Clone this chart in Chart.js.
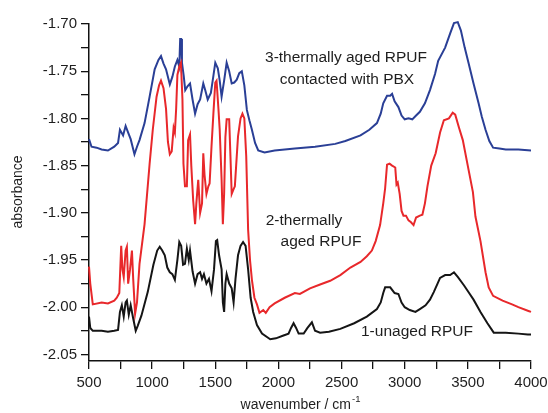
<!DOCTYPE html>
<html><head><meta charset="utf-8">
<script src="https://cdn.jsdelivr.net/npm/chart.js@4.4.1/dist/chart.umd.min.js"></script>
<style>html,body{margin:0;padding:0;background:#fff;}canvas{display:block;}</style>
</head><body>
<canvas id="c" width="548" height="413"></canvas>
<script>
// ---- data ----
const blackX = [500,510,530,600,650,700,730,745,760,775,790,800,815,830,850,870,885,915,965,1010,1040,1060,1080,1100,1120,1140,1160,1180,1200,1215,1230,1245,1260,1275,1290,1300,1320,1340,1360,1380,1395,1410,1430,1450,1470,1490,1505,1515,1530,1550,1560,1570,1580,1590,1610,1630,1645,1660,1680,1700,1720,1740,1760,1780,1800,1830,1870,1935,1980,2040,2080,2100,2120,2140,2160,2200,2230,2265,2290,2330,2400,2490,2600,2700,2780,2810,2830,2845,2885,2920,2950,2975,3000,3040,3085,3120,3165,3200,3230,3260,3280,3320,3360,3390,3420,3470,3510,3545,3600,3655,3705,3800,3900,3975,4000];
const blackY = [-2.010,-2.022,-2.025,-2.025,-2.026,-2.025,-2.024,-2.005,-1.998,-2.010,-1.995,-1.993,-2.008,-1.998,-2.012,-2.025,-2.020,-2.009,-1.984,-1.955,-1.940,-1.936,-1.940,-1.945,-1.958,-1.963,-1.965,-1.971,-1.950,-1.931,-1.935,-1.955,-1.954,-1.938,-1.950,-1.940,-1.962,-1.975,-1.965,-1.963,-1.970,-1.965,-1.975,-1.970,-1.983,-1.960,-1.930,-1.929,-1.945,-1.960,-1.995,-2.005,-1.975,-1.965,-1.975,-1.980,-1.995,-1.970,-1.945,-1.935,-1.931,-1.935,-1.960,-1.990,-2.005,-2.019,-2.028,-2.034,-2.033,-2.030,-2.028,-2.022,-2.017,-2.022,-2.028,-2.028,-2.022,-2.016,-2.025,-2.027,-2.026,-2.023,-2.017,-2.010,-2.002,-1.995,-1.985,-1.979,-1.979,-1.985,-1.986,-1.995,-2.000,-2.003,-2.005,-2.002,-1.998,-1.992,-1.984,-1.975,-1.969,-1.966,-1.966,-1.963,-1.968,-1.977,-1.985,-1.992,-2.005,-2.017,-2.027,-2.027,-2.028,-2.029,-2.029];

const redX = [500,510,530,600,650,700,720,740,755,765,775,790,800,810,825,840,850,865,880,900,940,980,1005,1035,1055,1070,1090,1110,1125,1140,1155,1170,1180,1190,1200,1215,1228,1240,1248,1260,1275,1285,1300,1310,1325,1340,1350,1365,1380,1395,1405,1415,1430,1445,1455,1470,1485,1500,1510,1525,1535,1550,1560,1570,1580,1590,1610,1620,1630,1645,1655,1670,1680,1700,1715,1730,1745,1760,1775,1790,1810,1830,1850,1880,1900,1930,1970,2050,2130,2170,2250,2330,2410,2490,2570,2650,2700,2740,2770,2805,2830,2845,2860,2880,2900,2925,2935,2945,2960,2975,2990,3010,3030,3050,3070,3090,3120,3140,3160,3180,3210,3245,3280,3310,3350,3380,3400,3430,3460,3505,3540,3560,3600,3640,3665,3700,3775,3850,3900,3980,4000];
const redY = [-1.957,-1.975,-1.997,-1.995,-1.996,-1.993,-1.990,-1.985,-1.935,-1.960,-1.968,-1.940,-1.936,-1.975,-1.960,-1.940,-1.970,-2.007,-1.995,-1.954,-1.912,-1.848,-1.812,-1.777,-1.765,-1.760,-1.768,-1.790,-1.825,-1.838,-1.835,-1.810,-1.815,-1.790,-1.754,-1.745,-1.741,-1.780,-1.848,-1.872,-1.872,-1.823,-1.817,-1.850,-1.887,-1.912,-1.890,-1.865,-1.900,-1.890,-1.837,-1.860,-1.880,-1.872,-1.869,-1.830,-1.795,-1.762,-1.760,-1.790,-1.812,-1.865,-1.912,-1.880,-1.820,-1.801,-1.801,-1.840,-1.880,-1.875,-1.872,-1.840,-1.819,-1.800,-1.795,-1.800,-1.840,-1.918,-1.950,-1.971,-1.990,-1.997,-2.006,-2.003,-2.006,-2.000,-1.996,-1.990,-1.985,-1.986,-1.980,-1.976,-1.972,-1.966,-1.958,-1.952,-1.946,-1.940,-1.930,-1.913,-1.890,-1.874,-1.849,-1.848,-1.850,-1.852,-1.870,-1.868,-1.880,-1.898,-1.903,-1.903,-1.908,-1.910,-1.913,-1.905,-1.903,-1.902,-1.890,-1.872,-1.850,-1.837,-1.815,-1.802,-1.800,-1.794,-1.796,-1.810,-1.823,-1.854,-1.878,-1.904,-1.930,-1.963,-1.979,-1.988,-1.993,-1.997,-2.000,-2.004,-2.005];

const blueX = [500,520,560,600,650,700,730,745,770,790,810,830,860,880,900,940,980,1020,1050,1070,1090,1110,1140,1160,1180,1200,1215,1222,1230,1236,1250,1262,1280,1300,1320,1340,1360,1380,1405,1420,1440,1465,1485,1500,1520,1535,1550,1570,1590,1610,1630,1650,1670,1690,1710,1730,1750,1770,1790,1815,1840,1890,1970,2130,2290,2450,2530,2650,2720,2780,2810,2830,2860,2885,2900,2920,2950,2975,3000,3030,3060,3090,3120,3160,3200,3240,3265,3320,3360,3390,3420,3445,3475,3505,3545,3585,3610,3640,3670,3700,3750,3800,3900,4000];
const blueY = [-1.822,-1.830,-1.831,-1.833,-1.834,-1.830,-1.826,-1.812,-1.818,-1.808,-1.815,-1.822,-1.838,-1.830,-1.823,-1.805,-1.777,-1.748,-1.738,-1.734,-1.742,-1.748,-1.764,-1.756,-1.745,-1.738,-1.745,-1.716,-1.716,-1.741,-1.755,-1.770,-1.766,-1.763,-1.780,-1.795,-1.785,-1.780,-1.763,-1.770,-1.780,-1.773,-1.755,-1.741,-1.747,-1.760,-1.777,-1.760,-1.741,-1.750,-1.763,-1.762,-1.759,-1.752,-1.750,-1.765,-1.791,-1.802,-1.812,-1.826,-1.834,-1.836,-1.834,-1.832,-1.830,-1.827,-1.824,-1.818,-1.812,-1.805,-1.795,-1.784,-1.776,-1.776,-1.774,-1.782,-1.788,-1.797,-1.801,-1.800,-1.801,-1.797,-1.793,-1.784,-1.770,-1.753,-1.739,-1.725,-1.710,-1.699,-1.698,-1.707,-1.725,-1.741,-1.763,-1.784,-1.798,-1.812,-1.824,-1.831,-1.832,-1.833,-1.833,-1.834];

const xTicks = [500,750,1000,1250,1500,1750,2000,2250,2500,2750,3000,3250,3500,3750,4000];
const xLabels = [500,1000,1500,2000,2500,3000,3500,4000];
const yTicks = [-2.05,-2.025,-2.00,-1.975,-1.95,-1.925,-1.90,-1.875,-1.85,-1.825,-1.80,-1.775,-1.75,-1.725,-1.70];
const yLabels = [-2.05,-2.00,-1.95,-1.90,-1.85,-1.80,-1.75,-1.70];

const seriesNames = ['1-unaged RPUF','2-thermally aged RPUF','3-thermally aged RPUF contacted with PBX'];

// ---- build ----
const pts = (xs, ys) => xs.map((x, i) => ({x: x, y: ys[i]}));
const FONT = '"Liberation Sans", Arial, sans-serif';
const TXT = '#1e1e1e';

const labelPlugin = {
  id: 'labels',
  afterDraw(chart) {
    const ctx = chart.ctx;
    ctx.save();
    ctx.fillStyle = TXT;
    ctx.font = '15.5px ' + FONT;
    ctx.textAlign = 'center';
    ctx.textBaseline = 'middle';
    ctx.fillText('3-thermally aged RPUF', 346, 58);
    ctx.fillText('contacted with PBX', 347, 80);
    ctx.fillText('2-thermally', 304, 221);
    ctx.fillText('aged RPUF', 321, 242);
    ctx.fillText('1-unaged RPUF', 417, 332);
    // y title
    ctx.font = '14px ' + FONT;
    ctx.save();
    ctx.translate(18, 192);
    ctx.rotate(-Math.PI / 2);
    ctx.fillText('absorbance', 0, 0);
    ctx.restore();
    // x title with superscript
    const main = 'wavenumber / cm';
    ctx.font = '14px ' + FONT;
    const w1 = ctx.measureText(main).width;
    ctx.font = '9.5px ' + FONT;
    const w2 = ctx.measureText('-1').width;
    const x0 = 300 - (w1 + w2) / 2;
    ctx.textAlign = 'left';
    ctx.font = '14px ' + FONT;
    ctx.fillText(main, x0, 405);
    ctx.font = '9.5px ' + FONT;
    ctx.fillText('-1', x0 + w1 + 1, 399);
    ctx.restore();
  }
};

const axisCommon = {
  grid: {drawOnChartArea: false, drawTicks: true, tickLength: 8, color: '#111', lineWidth: 1.3},
  border: {display: true, color: '#111', width: 1.5},
};

new Chart(document.getElementById('c'), {
  type: 'line',
  data: {
    datasets: [
      {label: seriesNames[0], data: pts(blackX, blackY), borderColor: '#151515', borderWidth: 2, pointRadius: 0, tension: 0, fill: false, clip: false},
      {label: seriesNames[1], data: pts(redX, redY), borderColor: '#e8282b', borderWidth: 2, pointRadius: 0, tension: 0, fill: false, clip: false},
      {label: seriesNames[2], data: pts(blueX, blueY), borderColor: '#2a3f96', borderWidth: 2, pointRadius: 0, tension: 0, fill: false, clip: false}
    ]
  },
  options: {
    responsive: false,
    animation: false,
    layout: {padding: {left: 0, right: 17, top: 24, bottom: 0}},
    plugins: {legend: {display: false}, tooltip: {enabled: false}},
    scales: {
      x: Object.assign({}, axisCommon, {
        type: 'linear', min: 500, max: 4000,
        afterBuildTicks: s => { s.ticks = xTicks.map(v => ({value: v})); },
        afterFit: s => { s.height = 52; s.paddingLeft = 0; s.paddingRight = 0; },
        ticks: {
          autoSkip: false, maxRotation: 0, padding: 5, color: TXT,
          font: {family: FONT, size: 15},
          callback: v => xLabels.includes(v) ? String(v) : ''
        }
      }),
      y: Object.assign({}, axisCommon, {
        type: 'linear', min: -2.057, max: -1.70,
        afterBuildTicks: s => { s.ticks = yTicks.map(v => ({value: v})); },
        afterFit: s => { s.width = 89; s.paddingTop = 0; s.paddingBottom = 0; },
        ticks: {
          autoSkip: false, padding: 4, color: TXT,
          font: {family: FONT, size: 15},
          callback: v => yLabels.some(l => Math.abs(l - v) < 1e-6) ? v.toFixed(2) : ''
        }
      })
    }
  },
  plugins: [labelPlugin]
});
</script>
</body></html>
